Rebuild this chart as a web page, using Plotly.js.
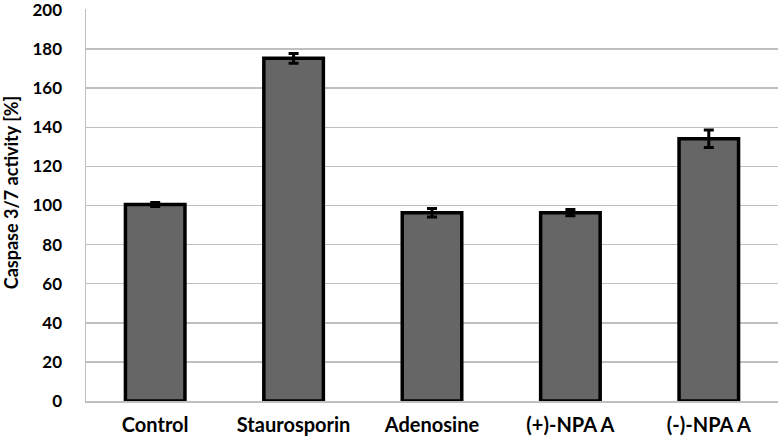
<!DOCTYPE html>
<html>
<head>
<meta charset="utf-8">
<script src="https://cdn.plot.ly/plotly-3.0.1.min.js"></script>
<style>
  html, body { margin: 0; padding: 0; background: #fff; }
  #plot { width: 779px; height: 439px; }
</style>
</head>
<body>
<div id="plot"></div>
<script>
// treatments and measured caspase 3/7 activity (% of control)
const treatments = ['Control', 'Staurosporin', 'Adenosine', '(+)-NPA A', '(-)-NPA A'];
const activity = [100.5, 175.3, 96.3, 96.3, 134.1];
const activityErr = [1.0, 2.5, 2.2, 1.6, 4.5];

const yTicks = [0, 20, 40, 60, 80, 100, 120, 140, 160, 180, 200];
const yTitle = 'Caspase 3/7 activity [%]';

const fontFamily = 'Lato, "Open Sans", sans-serif';

const trace = {
    x: treatments,
    y: activity,
    type: 'bar',
    marker: {
        color: 'rgb(102, 102, 102)',
        line: { color: '#000', width: 3.5 }
    },
    error_y: {
        type: 'data',
        array: activityErr,
        visible: true,
        color: '#000',
        thickness: 3,
        width: 5
    },
    hoverinfo: 'none'
};

const layout = {
    width: 779,
    height: 439,
    margin: { l: 86, r: 1, t: 9, b: 38 },
    paper_bgcolor: '#fff',
    plot_bgcolor: '#fff',
    bargap: 0.57,
    showlegend: false,
    xaxis: {
        tickfont: { family: fontFamily, size: 20, color: '#000', weight: 'bold' },
        ticks: '',
        showgrid: false,
        showline: true,
        linecolor: '#bfbfbf',
        linewidth: 1.5,
        ticklabelstandoff: 5
    },
    yaxis: {
        range: [0, 200.5],
        tickvals: yTicks,
        tickfont: { family: fontFamily, size: 17, color: '#000', weight: 'bold' },
        ticklabeloverflow: 'allow',
        ticks: '',
        showgrid: true,
        gridcolor: '#bfbfbf',
        gridwidth: 1.5,
        zeroline: false,
        showline: true,
        linecolor: '#bfbfbf',
        linewidth: 1.5,
        ticklabelstandoff: 19
    },
    // axis title placed as an annotation so it can sit where the original has it
    annotations: [{
        text: yTitle,
        textangle: -90,
        xref: 'paper',
        yref: 'paper',
        x: 0,
        y: 0.53,
        xanchor: 'center',
        yanchor: 'middle',
        xshift: -75,
        showarrow: false,
        font: { family: fontFamily, size: 18, color: '#000', weight: 'bold' }
    }]
};

Plotly.newPlot('plot', [trace], layout, { staticPlot: true });
</script>
</body>
</html>
